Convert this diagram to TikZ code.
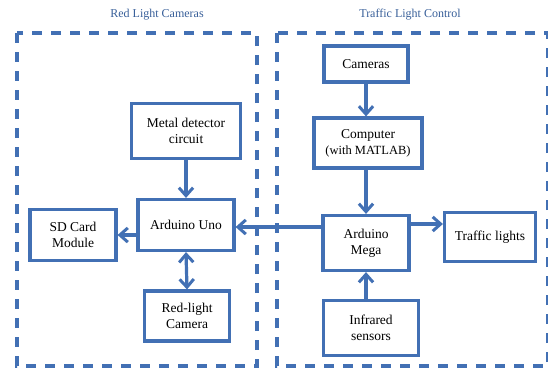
\documentclass[tikz,border=0pt]{standalone}
\usepackage{fontspec}
\setmainfont{Liberation Serif}
\usetikzlibrary{arrows.meta,positioning}
\definecolor{boxblue}{RGB}{66,112,180}

\begin{document}
\begin{tikzpicture}[x=1pt,y=-1pt,
    >={Straight Barb[length=2.8mm,width=5mm,line width=3pt]},
    blk/.style={draw=boxblue,line width=3.2pt,align=center,inner sep=1pt,font=\fontsize{13.5}{16}\selectfont},
    lnk/.style={draw=boxblue,line width=3.2pt,->},
    grp/.style={draw=boxblue,line width=3.2pt,dash pattern=on 10pt off 9pt},
    ttl/.style={font=\fontsize{12}{14}\selectfont,text=boxblue!85!black}]
    \useasboundingbox (0,0) rectangle (548,370);
    % dashed groups
    \draw[grp] (17,33) rectangle (257,366);
    \draw[grp] (277,33) rectangle (548,366);
    \node[ttl] (tred) at (157,15) {Red Light Cameras};
    \node[ttl] (ttraf) at (410,15) {Traffic Light Control};
    % red light side
    \node[blk,minimum width=109pt,minimum height=55pt] (metal) at (186,131) {Metal detector\\circuit};
    \node[blk,minimum width=96pt,minimum height=51pt] (uno) at (186,225) {Arduino Uno};
    \node[blk,minimum width=86pt,minimum height=51pt] (sd) at (73,235) {SD Card\\Module};
    \node[blk,minimum width=85pt,minimum height=50pt] (rcam) at (187,316) {Red-light\\Camera};
    % traffic light side
    \node[blk,minimum width=84pt,minimum height=36pt] (cams) at (366,64) {Cameras};
    \node[blk,minimum width=108pt,minimum height=50pt] (comp) at (368,143) {Computer\\{\fontsize{12.5}{15}\selectfont(with MATLAB)}};
    \node[blk,minimum width=86pt,minimum height=55pt] (mega) at (366,243) {Arduino\\Mega};
    \node[blk,minimum width=91pt,minimum height=49pt] (tl) at (490,237) {Traffic lights};
    \node[blk,minimum width=95pt,minimum height=55pt] (ir) at (371,328) {Infrared\\sensors};
    % connections
    \draw[lnk] (metal) -- (uno);
    \draw[lnk] (uno.west |- 0,235) -- (sd.east |- 0,235);
    \draw[lnk,<->] (uno.south) -- (rcam.north);
    \draw[lnk] (cams.south) -- (cams.south |- comp.north);
    \draw[lnk] (comp.south -| mega.north) -- (mega.north);
    \draw[lnk] (mega.west |- 0,227) -- (uno.east |- 0,227);
    \draw[lnk] (mega.east |- 0,224) -- (tl.west |- 0,224);
    \draw[lnk] (ir.north -| mega.south) -- (mega.south);
\end{tikzpicture}
\end{document}
